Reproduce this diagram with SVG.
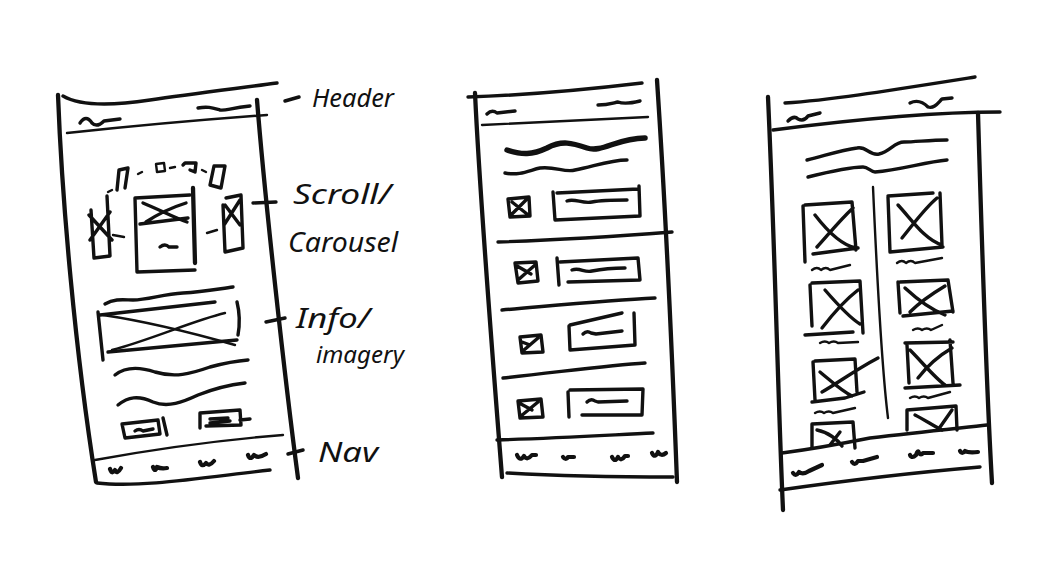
<svg xmlns="http://www.w3.org/2000/svg" width="1038" height="565" viewBox="0 0 1038 565">
<style>
.s{fill:none;stroke:#111;stroke-width:3.4;stroke-linecap:round;stroke-linejoin:round}
.t{fill:none;stroke:#111;stroke-width:2.4;stroke-linecap:round;stroke-linejoin:round}
.b{fill:none;stroke:#111;stroke-width:5.5;stroke-linecap:round;stroke-linejoin:round}
.f{fill:none;stroke:#111;stroke-width:4.3;stroke-linecap:round;stroke-linejoin:round}
.w{fill:none;stroke:#111;stroke-width:4.2;stroke-linecap:round;stroke-linejoin:round}
.lbl{font-family:"Noto Sans","Liberation Sans",sans-serif;font-style:italic;fill:#111}
</style>
<rect width="1038" height="565" fill="#fff"/>

<g id="wireframe-1">
  <path class="f" d="M58 95 C62 200 75 350 96 482"/>
  <path class="f" d="M257 100 C265 200 285 380 298 478"/>
  <path class="s" d="M63 96 C80 106 110 106 150 100 S240 88 277 83"/>
  <path class="t" d="M67 133 Q170 122 267 115"/>
  <path class="s" d="M80 123 c4 -6 8 -6 12 0 c4 4 8 2 12 -2 l16 -2"/>
  <path class="s" d="M198 108 c10 -2 15 0 22 2 c6 1 10 -2 30 -4"/>
  <path class="s" d="M190 195 L135 198 L137 272 L195 270"/>
  <path class="f" d="M193 188 L195 263"/>
  <path class="s" d="M143 203 C160 210 175 218 187 222 M186 203 C170 208 155 216 146 222 M140 224 L188 218"/>
  <path class="s" d="M160 247 q5 -4 9 0 l8 0"/>
  <path class="s" d="M107 196 L110 256 L94 258 L91 210 M89 215 L112 240 M90 240 L110 212"/>
  <path class="s" d="M226 198 L241 195 L243 248 L225 252 L223 205 M225 205 L240 225 M224 225 L240 200"/>
  <path class="s" d="M117 190 L119 170 L128 168 L125 188"/>
  <path class="t" d="M156 164 L157 172 L165 171 L164 163 Z"/>
  <path class="s" d="M183 165 L185 163 L196 163 L195 172 L190 170"/>
  <path class="s" d="M210 185 L214 166 L225 166 L221 188 Z"/>
  <path class="t" d="M108 192 L112 190 M138 174 L142 172 M170 168 L175 167 M113 235 L124 237 M207 233 L217 230 M202 170 L206 172"/>
  <path class="s" d="M105 304 c10 -6 20 -4 28 -4 c15 0 30 -6 50 -7 c20 -1 35 -4 50 -6"/>
  <path class="s" d="M98 312 L103 360 M100 315 L215 302 M108 352 L237 340 M237 302 Q241 318 238 335"/>
  <path class="t" d="M103 315 C150 322 200 335 235 345 M112 350 C150 340 195 320 225 313"/>
  <path class="s" d="M115 375 c10 -8 25 -8 40 -3 c20 6 35 2 55 -5 c15 -4 25 -6 38 -7"/>
  <path class="s" d="M118 405 c10 -8 20 -10 35 -3 c15 6 30 0 45 -7 c15 -6 30 -10 47 -12"/>
  <path class="s" d="M122 424 L125 438 L160 434 L158 420 Z M163 418 L167 435 M135 431 q4 -3 8 0 l10 -2"/>
  <path class="s" d="M200 428 L200 413 L240 410 L241 425 L206 426 M240 420 L250 419 M210 419 L228 418 M210 423 L230 421"/>
  <path class="t" d="M95 460 C150 450 220 440 283 435"/>
  <path class="w" d="M110 469 q2 6 5 1 q2 5 6 -2 M153 467 q2 6 4 0 q4 2 10 1 M200 462 q2 6 6 1 q3 4 8 -2 M248 455 q2 6 6 0 q4 4 12 -1"/>
  <path class="s" d="M97 483 C140 488 200 478 270 470"/>
</g>

<g id="connectors">
  <path class="s" d="M285 101 L299 97 M253 203 L276 202 M266 322 L285 318 M288 454 L303 450"/>
</g>

<g id="labels">
  <text class="lbl" x="312" y="107" style="font-size:25px" textLength="82" lengthAdjust="spacingAndGlyphs">Header</text>
  <text class="lbl" x="293" y="204" style="font-size:28px" textLength="98" lengthAdjust="spacingAndGlyphs">Scroll/</text>
  <text class="lbl" x="288" y="252" style="font-size:27px" textLength="110" lengthAdjust="spacingAndGlyphs">Carousel</text>
  <text class="lbl" x="296" y="328" style="font-size:28px" textLength="74" lengthAdjust="spacingAndGlyphs">Info/</text>
  <text class="lbl" x="316" y="363" style="font-size:24px" textLength="88" lengthAdjust="spacingAndGlyphs">imagery</text>
  <text class="lbl" x="318" y="462" style="font-size:28px" textLength="60" lengthAdjust="spacingAndGlyphs">Nav</text>
</g>

<g id="wireframe-2">
  <path class="s" d="M468 97 C530 95 600 88 642 83"/>
  <path class="f" d="M475 93 C480 200 492 350 502 477"/>
  <path class="f" d="M657 80 C665 200 672 350 677 482"/>
  <path class="t" d="M482 125 L648 117"/>
  <path class="s" d="M487 114 q5 -5 10 -1 l18 -2"/>
  <path class="s" d="M598 105 c10 0 15 -2 20 -3 c5 2 10 2 22 -1"/>
  <path class="b" d="M507 150 c15 5 25 5 40 -2 c15 -8 25 -5 40 0 c15 5 30 -10 58 -10"/>
  <path class="s" d="M505 173 c15 3 25 -3 35 -5 c15 -2 25 5 35 2 c20 -4 35 -10 52 -10"/>
  <path class="s" d="M508 199 L510 217 L530 216 L529 197 Z M512 214 L526 200 M512 202 L527 214"/>
  <path class="s" d="M553 192 L555 220 L640 216 L639 186 M557 193 L638 189"/>
  <path class="s" d="M567 201 c8 -3 15 3 25 1 c10 -2 20 -2 35 -2"/>
  <path class="s" d="M498 242 C560 240 620 236 672 232"/>
  <path class="s" d="M515 263 L518 283 L538 281 L536 262 Z M518 280 L535 265 M517 266 L531 274"/>
  <path class="s" d="M557 258 L559 285 M560 262 L638 258 L640 280 L568 282"/>
  <path class="s" d="M572 270 c8 -3 12 3 20 1 c10 -2 20 -3 33 -3"/>
  <path class="s" d="M502 310 C560 305 610 300 655 298"/>
  <path class="s" d="M520 337 L522 353 L543 352 L541 335 Z M524 350 L538 338 M522 342 L530 345"/>
  <path class="s" d="M569 326 L570 350 L635 345 L634 313 M570 325 L622 313"/>
  <path class="s" d="M583 334 q4 -4 8 -1 l5 1 l26 -3"/>
  <path class="s" d="M503 378 C560 372 610 365 645 363"/>
  <path class="s" d="M518 401 L520 418 L543 417 L541 399 Z M521 416 L538 402 M521 404 L532 410"/>
  <path class="s" d="M568 392 L569 417 M570 390 L643 389 L642 415 L582 415"/>
  <path class="s" d="M587 402 q4 -4 8 -1 l3 1 l29 -1"/>
  <path class="s" d="M497 440 C560 438 610 435 653 433"/>
  <path class="w" d="M517 455 q3 7 7 1 q3 5 8 -1 l4 0 M563 457 q3 4 5 0 l6 0 M612 457 q3 6 6 0 q3 5 7 -1 l3 0 M652 453 q3 6 6 -1 q3 5 8 1"/>
  <path class="s" d="M507 473 C560 476 620 477 673 477"/>
</g>

<g id="wireframe-3">
  <path class="s" d="M785 103 C830 100 880 92 975 77"/>
  <path class="s" d="M773 130 C850 120 930 112 1000 112"/>
  <path class="s" d="M788 121 q6 -6 10 -2 q6 3 10 -3 l12 -3"/>
  <path class="s" d="M910 103 c8 -4 14 0 18 4 c6 2 10 -4 14 -8 l10 -1"/>
  <path class="f" d="M768 97 C775 250 778 400 783 510"/>
  <path class="f" d="M978 113 C982 250 986 380 992 483"/>
  <path class="s" d="M807 160 c20 -5 35 -10 50 -12 c10 -2 12 8 22 6 c12 -3 15 -12 25 -12 c12 0 25 -2 43 -2"/>
  <path class="s" d="M808 177 c20 -5 40 -10 55 -10 c5 0 8 5 12 5 c25 -2 50 -10 72 -12"/>
  <path class="t" d="M873 187 C878 300 882 370 888 418"/>
  <path class="s" d="M803 206 L805 262 M805 205 L852 202 L856 250 M813 254 L858 248 M815 215 C825 228 840 245 856 248 M817 247 C828 235 840 220 853 208"/>
  <path class="t" d="M812 270 q5 -4 9 0 q5 -4 9 0 l20 -5"/>
  <path class="s" d="M810 285 L812 326 M812 283 L860 281 L863 333 M805 335 L853 332 M822 328 C832 315 845 300 858 290 M825 290 C838 305 850 318 860 324"/>
  <path class="t" d="M820 343 q5 -3 9 0 q5 -3 9 0 l20 -1"/>
  <path class="s" d="M813 362 L815 400 M815 361 L855 359 L857 392 M812 402 L845 398 L864 392 M822 392 C835 385 855 370 878 358 M820 372 C830 380 840 390 852 396"/>
  <path class="t" d="M815 413 q5 -3 9 0 q5 -3 9 0 l22 -5"/>
  <path class="s" d="M812 448 L812 424 L853 422 L855 448 M817 430 C828 432 838 440 842 446 M840 432 L830 445"/>
  <path class="s" d="M888 197 L890 252 M888 196 L933 193 M940 193 L942 245 M890 252 L943 247 M898 205 C912 220 925 240 942 245 M902 238 C915 222 925 208 937 198"/>
  <path class="t" d="M897 263 q5 -4 9 0 q5 -4 9 0 l27 -5"/>
  <path class="s" d="M898 282 L900 313 M900 282 L948 280 L953 312 M903 316 L953 311 M905 288 C918 300 932 310 945 315 M910 312 C920 302 935 292 945 286"/>
  <path class="t" d="M913 330 q5 -3 9 0 q5 -3 9 0 l11 -5"/>
  <path class="s" d="M907 345 L909 383 M905 343 L953 342 M950 340 L953 383 M905 388 L960 385 M910 350 C922 362 935 378 945 385 M918 378 C928 365 940 355 952 348"/>
  <path class="t" d="M910 398 q5 -3 9 0 q5 -3 9 0 l22 -6"/>
  <path class="s" d="M907 430 L907 410 L956 406 L957 430 M915 415 C925 420 935 427 942 430 M952 410 L938 430"/>
  <path class="s" d="M782 453 C820 448 850 442 870 438 C920 432 960 428 987 425"/>
  <path class="w" d="M793 473 q3 4 6 -1 q4 3 10 -1 l13 -6 M852 462 q3 4 6 -1 l5 0 l14 -4 M910 455 q2 4 6 0 q2 -6 3 -2 q2 3 4 0 l10 0 M960 451 q2 4 5 0 q3 2 13 1"/>
  <path class="s" d="M780 490 C850 480 920 472 980 467"/>
</g>
</svg>
